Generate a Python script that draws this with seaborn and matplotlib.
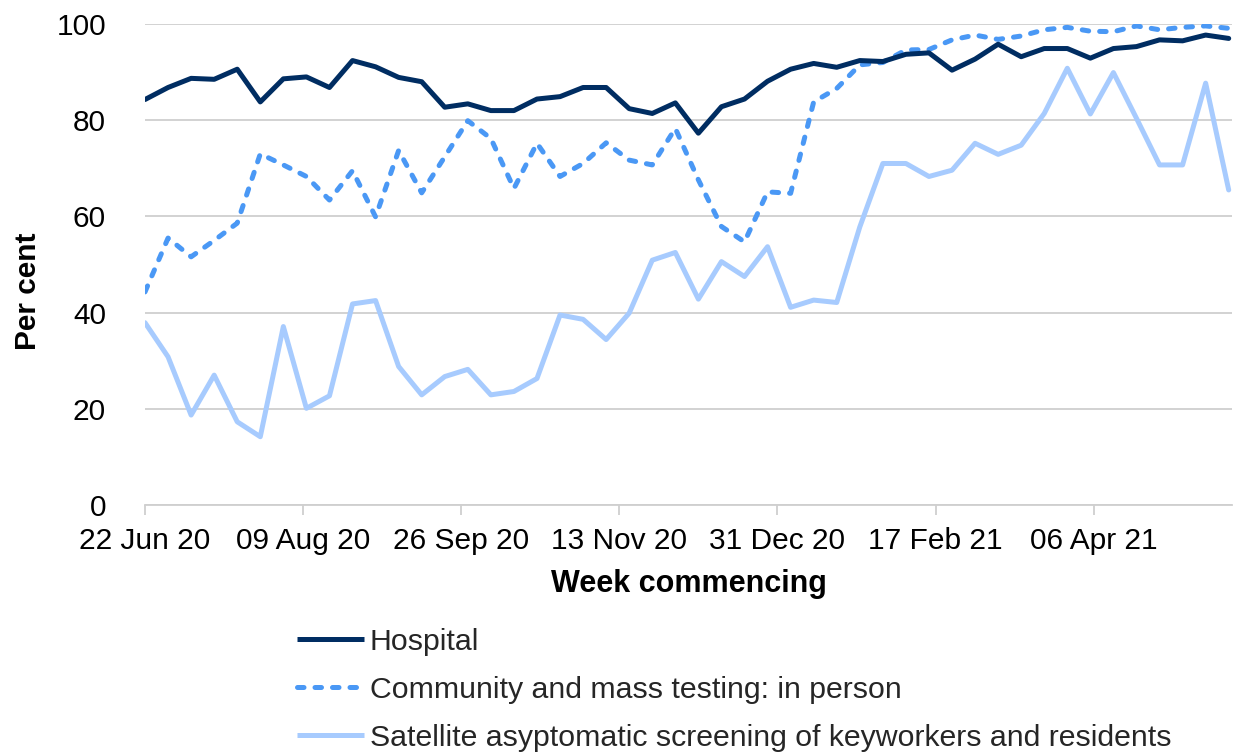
import matplotlib
matplotlib.use("Agg")
import matplotlib.pyplot as plt
import matplotlib.dates as mdates
from matplotlib.lines import Line2D
import seaborn as sns
import pandas as pd
import numpy as np

# ---- data ----
start_week = "2020-06-22"
n_weeks = 48
series_names = [
    "Hospital",
    "Community and mass testing: in person",
    "Satellite asyptomatic screening of keyworkers and residents",
]
hospital = [84.3, 86.8, 88.7, 88.5, 90.6, 83.8, 88.6, 89.0, 86.8, 92.4,
            91.1, 88.9, 88.0, 82.7, 83.4, 82.0, 82.0, 84.4, 84.9, 86.8,
            86.8, 82.4, 81.4, 83.6, 77.3, 82.8, 84.4, 88.1, 90.6, 91.8,
            91.0, 92.4, 92.2, 93.7, 94.0, 90.4, 92.7, 95.8, 93.2, 94.9,
            94.9, 92.9, 94.9, 95.3, 96.7, 96.5, 97.7, 97.0]
community = [44.3, 55.5, 51.6, 55.0, 58.6, 73.0, 70.7, 68.3, 63.4, 69.5,
             59.9, 73.7, 64.9, 72.4, 79.9, 76.2, 65.8, 75.2, 68.3, 71.0,
             75.3, 71.7, 70.7, 78.3, 67.6, 57.9, 54.7, 65.1, 64.8, 83.8,
             86.6, 91.5, 92.0, 94.6, 94.7, 96.7, 97.7, 96.8, 97.5, 98.8,
             99.3, 98.5, 98.4, 99.6, 98.8, 99.3, 99.6, 99.1]
satellite = [37.9, 30.8, 18.7, 27.0, 17.3, 14.2, 37.1, 20.1, 22.7, 41.8,
             42.5, 28.8, 22.9, 26.7, 28.2, 22.9, 23.6, 26.3, 39.5, 38.6,
             34.4, 39.9, 50.9, 52.5, 42.8, 50.6, 47.5, 53.7, 41.1, 42.6,
             42.1, 57.8, 71.0, 71.0, 68.3, 69.6, 75.2, 72.9, 74.8, 81.4,
             90.8, 81.3, 89.9, 80.4, 70.7, 70.7, 87.7, 65.5]
y_ticks = [0, 20, 40, 60, 80, 100]
tick_step_days = 48
n_xticks = 7

colors = ["#002D62", "#4A98F5", "#A7CBFE"]

weeks = pd.date_range(start_week, periods=n_weeks, freq="7D")
df = pd.concat([
    pd.DataFrame({"week": weeks, "value": vals, "series": name})
    for name, vals in zip(series_names, [hospital, community, satellite])
], ignore_index=True)

# ---- style ----
sns.set_theme(style="white")
plt.rcParams["font.family"] = ["Liberation Sans", "DejaVu Sans"]
FS = 21.5

W, H = 1236, 756
fig = plt.figure(figsize=(W / 100, H / 100), dpi=100)
ax = fig.add_axes([145 / W, 1 - 505 / H, (1232 - 145) / W, (505 - 24) / H])

lw = 3.6
dash_pat = (1.3, 2.2)
sns.lineplot(data=df, x="week", y="value", hue="series", style="series",
             hue_order=series_names, style_order=series_names,
             palette=dict(zip(series_names, colors)),
             dashes={series_names[0]: "", series_names[1]: dash_pat, series_names[2]: ""},
             linewidth=lw, legend=False, ax=ax)
lines = ax.get_lines()
for i, ln in enumerate(lines):
    ln.set_solid_capstyle("round")
    ln.set_dash_capstyle("round")
    ln.set_solid_joinstyle("round")
    ln.set_dash_joinstyle("round")
    ln.set_zorder(3 + (len(lines) - i))

ax.set_ylim(0, 100)
ax.set_yticks(y_ticks)
ax.set_xlim(weeks[0], weeks[-1] + pd.Timedelta(days=1))
xt = [weeks[0] + pd.Timedelta(days=tick_step_days * k) for k in range(n_xticks)]
ax.set_xticks(xt)
ax.xaxis.set_major_formatter(mdates.DateFormatter("%d %b %y"))

ax.grid(axis="y", color="#CFCFCF", linewidth=1.3)
ax.grid(axis="x", visible=False)
for s in ["left", "right", "top"]:
    ax.spines[s].set_visible(False)
ax.spines["bottom"].set_color("#CFCFCF")
ax.spines["bottom"].set_linewidth(1.3)
ax.tick_params(axis="x", which="major", bottom=True, length=7, width=1.3,
               color="#CFCFCF", labelsize=FS, labelcolor="black", pad=9)
ax.tick_params(axis="y", left=False, labelsize=FS, labelcolor="black", pad=22)

ax.set_xlabel("Week commencing", fontsize=FS + 0.5, fontweight="bold", color="black")
ax.set_ylabel("Per cent", fontsize=FS, fontweight="bold", color="black")
ax.xaxis.set_label_coords(0.5, (505 - 569) / 481)
ax.yaxis.set_label_coords((42 - 145) / 1087, (505 - 291) / 481)

handles = [
    Line2D([], [], color=colors[0], lw=lw, solid_capstyle="butt"),
    Line2D([], [], color=colors[1], lw=lw, dashes=dash_pat, dash_capstyle="round"),
    Line2D([], [], color=colors[2], lw=lw, solid_capstyle="butt"),
]
fig.legend(handles, series_names, loc="upper left",
           bbox_to_anchor=(297 / W, 1 - 628 / H), frameon=False,
           fontsize=FS + 0.3, handlelength=2.2, handletextpad=0.2, labelspacing=0.66,
           borderaxespad=0, borderpad=0)

fig.savefig("out.png", dpi=100)
